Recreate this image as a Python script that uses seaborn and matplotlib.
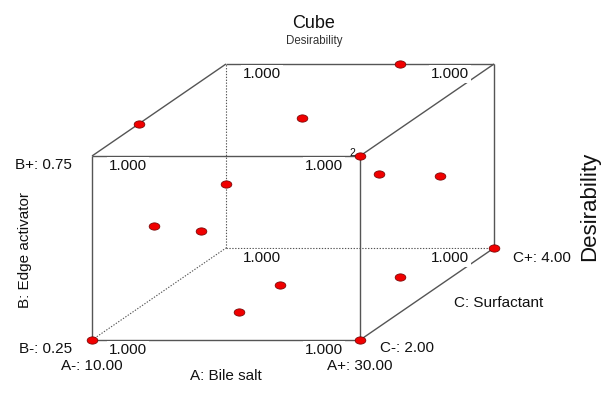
import numpy as np
import pandas as pd
import matplotlib
matplotlib.use("Agg")
import matplotlib.pyplot as plt
from matplotlib.path import Path
import seaborn as sns

# ---------------- data ----------------
# factor ranges
A_range = [10.00, 30.00]   # A: Bile salt
B_range = [0.25, 0.75]     # B: Edge activator
C_range = [2.00, 4.00]     # C: Surfactant

# design points (actual factor values)
pt_A = [23.0, 10.0, 21.6, 30.0, 30.0, 30.0, 10.0, 10.0, 10.0, 30.0, 26.2, 18.0, 18.0, 10.0, 30.0]
pt_B = [0.75, 0.75, 0.75, 0.75, 0.665, 0.545, 0.425, 0.445, 0.345, 0.25, 0.25, 0.25, 0.25, 0.25, 0.25]
pt_C = [4.00, 2.70, 2.82, 2.00, 2.28, 3.20, 4.00, 2.92, 3.62, 4.00, 3.36, 3.20, 2.60, 2.00, 2.00]
pt_rep = [1, 1, 1, 2, 1, 1, 1, 1, 1, 1, 1, 1, 1, 1, 1]

# corner predictions (Desirability) at (A, B, C) levels: -1 / +1
corner_A = [-1, 1, -1, 1, -1, 1, -1, 1]
corner_B = [-1, -1, 1, 1, -1, -1, 1, 1]
corner_C = [-1, -1, -1, -1, 1, 1, 1, 1]
corner_val = [1.000, 1.000, 1.000, 1.000, 1.000, 1.000, 1.000, 1.000]

# ---------------- projection ----------------
W, H, DPI = 604, 412, 100
X0, Y0, SX, SY = 92, 340, 268, 184   # pixel anchor & scale of the front face


def proj(a, b, c):
    """coded (0..1) factor coordinates -> oblique 2D coordinates"""
    return a + 0.5 * c, b + 0.5 * c


def norm(v, r):
    return (np.asarray(v, float) - r[0]) / (r[1] - r[0])


fig = plt.figure(figsize=(W / DPI, H / DPI), dpi=DPI)
sns.set_style("white")
plt.rcParams["font.family"] = ["Liberation Sans", "DejaVu Sans"]
ax = fig.add_axes([0, 0, 1, 1])
ax.set_xlim(-X0 / SX, (W - X0) / SX)
ax.set_ylim((Y0 - H) / SY, Y0 / SY)
ax.axis("off")

LINE = "#555555"
TXT = "#111111"

# cube edges
verts = {(i, j, k): proj(i, j, k) for i in (0, 1) for j in (0, 1) for k in (0, 1)}
edges = []
for i in (0, 1):
    for j in (0, 1):
        for k in (0, 1):
            for d in range(3):
                v = [i, j, k]
                if v[d] == 0:
                    w = v.copy(); w[d] = 1
                    edges.append((tuple(v), tuple(w)))
hidden = (0, 0, 1)
for v, w in edges:
    p, q = verts[v], verts[w]
    dotted = hidden in (v, w)
    ax.plot([p[0], q[0]], [p[1], q[1]], color=LINE,
            lw=0.8 if dotted else 1.0, ls=(0, (1.2, 1.4)) if dotted else "-",
            zorder=1, solid_capstyle="butt")

# corner values
for ca, cb, cc, val in zip(corner_A, corner_B, corner_C, corner_val):
    a, b, c = (ca + 1) / 2, (cb + 1) / 2, (cc + 1) / 2
    x, y = proj(a, b, c)
    if a == 0:
        dx, ha = 17, "left"
    else:
        dx, ha = (-25 if c == 1 else -17), "right"
    ax.annotate(f"{val:.3f}", (x, y), xytext=(dx, -10), textcoords="offset pixels",
                ha=ha, va="center", fontsize=11, color=TXT, zorder=3,
                bbox=dict(boxstyle="square,pad=0.1", fc="white", ec="none"))

# design points
df = pd.DataFrame({"A": pt_A, "B": pt_B, "C": pt_C, "rep": pt_rep})
a = norm(df["A"], A_range); b = norm(df["B"], B_range); c = norm(df["C"], C_range)
df["X"], df["Y"] = proj(a, b, c)
t = np.linspace(0, 2 * np.pi, 60)
ellipse = Path(np.column_stack([np.cos(t), 0.68 * np.sin(t)]), closed=True)
sns.scatterplot(data=df, x="X", y="Y", ax=ax, marker=ellipse, s=60,
                color="#f00000", edgecolor="#6a0000", linewidth=0.5, zorder=4,
                legend=False)
for _, r in df[df["rep"] > 1].iterrows():
    ax.annotate(str(int(r["rep"])), (r["X"], r["Y"]), xytext=(-5, 3),
                textcoords="offset pixels", ha="right", va="center",
                fontsize=7.5, color=TXT, zorder=5)

# factor level labels
def lab(text, pt, dx, dy, ha, va="center", **kw):
    ax.annotate(text, proj(*pt), xytext=(dx, -dy), textcoords="offset pixels",
                ha=ha, va=va, fontsize=11, color=TXT, zorder=5, **kw)

lab(f"B+: {B_range[1]:.2f}", (0, 1, 0), -20, 9, "right")
lab(f"B-: {B_range[0]:.2f}", (0, 0, 0), -20, 9, "right")
lab(f"A-: {A_range[0]:.2f}", (0, 0, 0), 0, 26, "center")
lab(f"A+: {A_range[1]:.2f}", (1, 0, 0), 0, 26, "center")
lab(f"C-: {C_range[0]:.2f}", (1, 0, 0), 20, 8, "left")
lab(f"C+: {C_range[1]:.2f}", (1, 0, 1), 19, 10, "left")
lab("A: Bile salt", (0.5, 0, 0), 0, 36, "center")
lab("C: Surfactant", (1, 0, 0.5), 27, 9, "left")
lab("B: Edge activator", (0, 0.5, 0), -67, 2, "center", rotation=90)

# titles
fig.text(314 / W, 1 - 23 / H, "Cube", ha="center", va="center", fontsize=13, color=TXT)
fig.text(314 / W, 1 - 41 / H, "Desirability", ha="center", va="center", fontsize=8.3, color="#333333")
fig.text(590 / W, 1 - 206 / H, "Desirability", ha="center", va="center", fontsize=16,
         rotation=90, color=TXT)

fig.savefig("out.png", dpi=DPI)
